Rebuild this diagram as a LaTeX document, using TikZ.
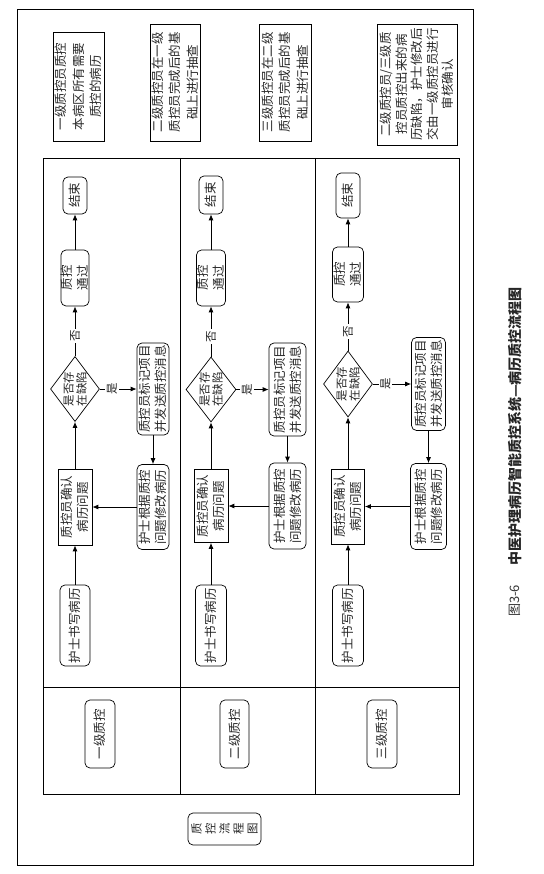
\documentclass[tikz,border=0pt]{standalone}
\usepackage{fontspec}
\setmainfont{Noto Sans CJK SC}
\usetikzlibrary{shapes.geometric,arrows.meta}
\begin{document}
\begin{tikzpicture}[x=1pt,y=1pt,
  every node/.style={rotate=90, inner sep=0pt, text=black!85, align=center, font=\fontsize{12.5}{16}\selectfont},
  rbox/.style={draw, rounded corners=5pt, line width=0.7pt},
  sbox/.style={draw, line width=0.7pt},
  dmd/.style={draw, diamond, shape aspect=1.3, inner sep=-2.5pt, line width=0.7pt, font=\fontsize{11.5}{13}\selectfont},
  info/.style={draw, line width=0.8pt, font=\fontsize{12.5}{17.5}\selectfont},
  lbl/.style={fill=white, inner sep=1.5pt, font=\fontsize{11.5}{12}\selectfont},
  arr/.style={-{Latex[length=6pt,width=5pt]}, line width=0.8pt},
  frame/.style={line width=0.8pt},
]
\useasboundingbox (0,0) rectangle (543,-874);
% frames
\draw[frame] (17,-9) rectangle (473,-865);
\draw[frame] (43,-158) rectangle (459,-794);
\draw[frame] (180,-158) -- (180,-794);
\draw[frame] (315,-158) -- (315,-794);
\draw[frame] (43,-687) -- (459,-687);
% info boxes
\node[info, minimum width=109pt, minimum height=51pt] (info1) at (78.5,-86.5) {一级质控员质控\\本病区所有需要\\质控的病历};
\node[info, minimum width=117pt, minimum height=50pt] (info2) at (175,-82.5) {二级质控员在一级\\质控员完成后的基\\础上进行抽查};
\node[info, minimum width=117pt, minimum height=52pt] (info3) at (285,-82.5) {三级质控员在二级\\质控员完成后的基\\础上进行抽查};
\node[info, minimum width=121pt, minimum height=80pt, font=\fontsize{12.5}{15.5}\selectfont] (info4) at (417,-84.5) {二级质控员/三级质\\控员质控出来的病\\历缺陷，护士修改后\\交由一级质控员进行\\审核确认};
% lane 1
\node[rbox, minimum width=37pt, minimum height=24pt] (end1) at (75,-195.5) {结束};
\node[rbox, minimum width=56pt, minimum height=28pt] (pass1) at (75,-278) {质控\\通过};
\node[dmd, minimum width=65pt, minimum height=49pt] (dm1) at (75,-389) {是否存\\在缺陷};
\node[rbox, minimum width=92pt, minimum height=32pt] (mark1) at (153,-389) {质控员标记项目\\并发送质控消息};
\node[rbox, minimum width=85pt, minimum height=32pt] (fix1) at (153,-507) {护士根据质控\\问题修改病历};
\node[sbox, minimum width=76pt, minimum height=34pt] (conf1) at (75,-507) {质控员确认\\病历问题};
\node[rbox, minimum width=81pt, minimum height=30pt] (write1) at (75,-625.5) {护士书写病历};
% lane 2
\node[rbox, minimum width=38pt, minimum height=24pt] (end2) at (211,-195) {结束};
\node[rbox, minimum width=56pt, minimum height=29pt] (pass2) at (211,-278) {质控\\通过};
\node[dmd, minimum width=65pt, minimum height=50pt] (dm2) at (211,-389.5) {是否存\\在缺陷};
\node[rbox, minimum width=93pt, minimum height=37pt] (mark2) at (287.5,-389.5) {质控员标记项目\\并发送质控消息};
\node[rbox, minimum width=86pt, minimum height=37pt] (fix2) at (287.5,-506) {护士根据质控\\问题修改病历};
\node[sbox, minimum width=73pt, minimum height=34pt] (conf2) at (211,-506) {质控员确认\\病历问题};
\node[rbox, minimum width=81pt, minimum height=31pt] (write2) at (211,-625.5) {护士书写病历};
% lane 3
\node[rbox, minimum width=45pt, minimum height=24pt] (end3) at (348,-195.5) {结束};
\node[rbox, minimum width=55pt, minimum height=31pt] (pass3) at (348,-274.5) {质控\\通过};
\node[dmd, minimum width=66pt, minimum height=49pt] (dm3) at (348,-384) {是否存\\在缺陷};
\node[rbox, minimum width=93pt, minimum height=34pt] (mark3) at (428.5,-384) {质控员标记项目\\并发送质控消息};
\node[rbox, minimum width=86pt, minimum height=36pt] (fix3) at (428.5,-506.5) {护士根据质控\\问题修改病历};
\node[sbox, minimum width=75pt, minimum height=33pt] (conf3) at (348,-506.5) {质控员确认\\病历问题};
\node[rbox, minimum width=81pt, minimum height=31pt] (write3) at (348,-625.5) {护士书写病历};
% connectors
\foreach \i in {1,2,3}{
  \draw[arr] (write\i) -- (conf\i);
  \draw[arr] (conf\i) -- (dm\i);
  \draw[arr] (dm\i) -- node[lbl, pos=0.4] {否} (pass\i);
  \draw[arr] (pass\i) -- (end\i);
  \draw[arr] (dm\i) -- node[lbl, pos=0.33] {是} (mark\i);
  \draw[arr] (mark\i) -- (fix\i);
  \draw[arr] (fix\i) -- (conf\i);
}
% lane labels
\node[rbox, minimum width=68pt, minimum height=30pt] (lv1) at (100,-734) {一级质控};
\node[rbox, minimum width=68pt, minimum height=29pt] (lv2) at (234.5,-734) {二级质控};
\node[rbox, minimum width=68pt, minimum height=30pt] (lv3) at (382,-734) {三级质控};
\node[rbox, minimum width=32pt, minimum height=73pt, font=\fontsize{11.5}{14}\selectfont] (flow) at (224.5,-829) {质\\控\\流\\程\\图};
% caption
\node[font=\fontsize{13}{14}\selectfont, text=black!80] (cap1) at (515,-601) {图3-6};
\node[font=\fontsize{14}{16}\selectfont\bfseries, text=black!85] (cap2) at (515,-426.5) {中医护理病历智能质控系统—病历质控流程图};
\end{tikzpicture}
\end{document}
